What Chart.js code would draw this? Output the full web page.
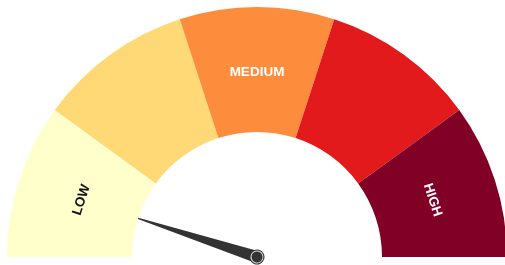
<!DOCTYPE html>
<html>
<head>
<meta charset="utf-8">
<script src="https://cdn.jsdelivr.net/npm/chart.js@4/dist/chart.umd.min.js"></script>
<style>
  html, body { margin: 0; padding: 0; background: #fff; overflow: hidden; width: 505px; height: 265px; }
  #wrap { position: absolute; left: 0; top: 0; width: 514px; height: 265px; }
</style>
</head>
<body>
<div id="wrap"><canvas id="c" width="514" height="265"></canvas></div>
<script>
// Data
const categories = ['LOW', 'LOW-MEDIUM', 'MEDIUM', 'MEDIUM-HIGH', 'HIGH'];
const segmentValues = [20, 20, 20, 20, 20];
const segmentLabels = ['LOW', '', 'MEDIUM', '', 'HIGH'];
const segmentColors = ['#ffffcc', '#fed976', '#fd8d3c', '#e31a1c', '#800026'];
const labelColors = ['#111111', '#111111', '#ffffff', '#ffffff', '#ffffff'];
const needleValue = [10];

const gaugePlugin = {
  id: 'gauge',
  afterDatasetsDraw(chart) {
    const ctx = chart.ctx;
    const meta = chart.getDatasetMeta(0);
    const arcs = meta.data;
    if (!arcs.length) return;
    const cx = arcs[0].x, cy = arcs[0].y;
    const inner = arcs[0].innerRadius, outer = arcs[0].outerRadius;
    // labels
    ctx.save();
    ctx.font = 'bold 13.5px "Liberation Sans", Arial, sans-serif';
    ctx.textAlign = 'center';
    ctx.textBaseline = 'middle';
    arcs.forEach((a, i) => {
      const t = segmentLabels[i];
      if (!t) return;
      const mid = (a.startAngle + a.endAngle) / 2;
      const r = (inner + outer) / 2 - 3;
      ctx.save();
      ctx.translate(cx + Math.cos(mid) * r, cy + Math.sin(mid) * r);
      ctx.rotate(mid + Math.PI / 2);
      ctx.fillStyle = labelColors[i];
      ctx.fillText(t, 0, 0);
      ctx.restore();
    });
    ctx.restore();
    // needle
    const total = segmentValues.reduce((s, v) => s + v, 0);
    const start = arcs[0].startAngle;
    const end = arcs[arcs.length - 1].endAngle;
    const ang = start + (needleValue[0] / total) * (end - start);
    const len = inner;
    ctx.save();
    ctx.translate(cx, cy);
    ctx.rotate(ang);
    ctx.fillStyle = '#333333';
    ctx.beginPath();
    ctx.moveTo(0, -6);
    ctx.lineTo(len, -0.6);
    ctx.lineTo(len, 0.6);
    ctx.lineTo(0, 6);
    ctx.closePath();
    ctx.fill();
    ctx.beginPath();
    ctx.arc(0, 0, 7.5, 0, Math.PI * 2);
    ctx.fillStyle = '#333333';
    ctx.fill();
    ctx.beginPath();
    ctx.arc(0, 0, 6, 0, Math.PI * 2);
    ctx.strokeStyle = 'rgba(255,255,255,0.85)';
    ctx.lineWidth = 1;
    ctx.stroke();
    ctx.restore();
  }
};

new Chart(document.getElementById('c'), {
  type: 'doughnut',
  data: {
    labels: categories,
    datasets: [{
      data: segmentValues,
      backgroundColor: segmentColors,
      borderWidth: 0
    }]
  },
  options: {
    responsive: false,
    animation: false,
    rotation: -90,
    circumference: 180,
    cutout: '50%',
    layout: { padding: { left: 7, right: 7, top: 7, bottom: 8 } },
    plugins: { legend: { display: false }, tooltip: { enabled: false } }
  },
  plugins: [gaugePlugin]
});
</script>
</body>
</html>
